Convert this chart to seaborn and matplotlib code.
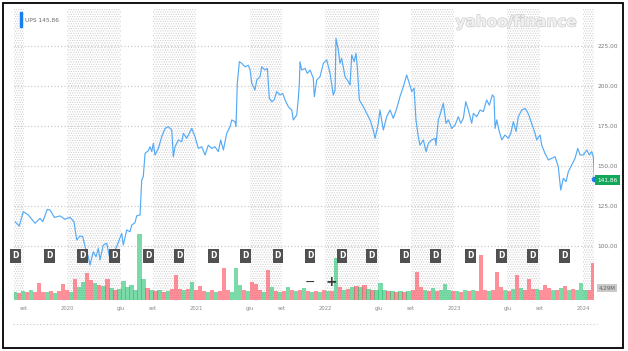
import numpy as np
import pandas as pd
import matplotlib
matplotlib.use("Agg")
import matplotlib.pyplot as plt
import matplotlib.patheffects as pe
from matplotlib.patches import Rectangle
from matplotlib.lines import Line2D
import seaborn as sns

# ---------------- data ----------------
t_year = [
    2019.597, 2019.630, 2019.661, 2019.700, 2019.752, 2019.791, 2019.812, 2019.847, 2019.868, 2019.902,
    2019.946, 2019.984, 2020.023, 2020.054, 2020.075, 2020.101, 2020.122, 2020.140, 2020.165, 2020.178,
    2020.204, 2020.225, 2020.243, 2020.256, 2020.281, 2020.308, 2020.333, 2020.359, 2020.385, 2020.424,
    2020.436, 2020.463, 2020.488, 2020.502, 2020.527, 2020.540, 2020.566, 2020.579, 2020.591, 2020.605,
    2020.630, 2020.643, 2020.657, 2020.669, 2020.682, 2020.708, 2020.734, 2020.760, 2020.785, 2020.812,
    2020.824, 2020.837, 2020.863, 2020.889, 2020.902, 2020.928, 2020.967, 2020.992, 2021.018, 2021.044,
    2021.070, 2021.095, 2021.122, 2021.147, 2021.173, 2021.191, 2021.212, 2021.238, 2021.264, 2021.277,
    2021.302, 2021.310, 2021.320, 2021.336, 2021.354, 2021.380, 2021.405, 2021.419, 2021.432, 2021.457,
    2021.471, 2021.496, 2021.509, 2021.535, 2021.553, 2021.568, 2021.587, 2021.605, 2021.626, 2021.651,
    2021.672, 2021.690, 2021.716, 2021.742, 2021.754, 2021.781, 2021.793, 2021.801, 2021.806, 2021.819,
    2021.845, 2021.863, 2021.884, 2021.909, 2021.917, 2021.936, 2021.961, 2021.987, 2022.013, 2022.039,
    2022.064, 2022.078, 2022.085, 2022.103, 2022.116, 2022.129, 2022.155, 2022.181, 2022.194, 2022.207,
    2022.225, 2022.240, 2022.250, 2022.266, 2022.297, 2022.323, 2022.349, 2022.374, 2022.388, 2022.413,
    2022.426, 2022.452, 2022.478, 2022.504, 2022.529, 2022.556, 2022.581, 2022.607, 2022.633, 2022.653,
    2022.672, 2022.690, 2022.705, 2022.723, 2022.736, 2022.762, 2022.783, 2022.801, 2022.827, 2022.853,
    2022.860, 2022.878, 2022.891, 2022.917, 2022.938, 2022.956, 2022.982, 2023.008, 2023.033, 2023.052,
    2023.072, 2023.091, 2023.111, 2023.137, 2023.150, 2023.176, 2023.202, 2023.227, 2023.253, 2023.274,
    2023.297, 2023.310, 2023.318, 2023.331, 2023.351, 2023.370, 2023.395, 2023.421, 2023.440, 2023.460,
    2023.481, 2023.498, 2023.525, 2023.550, 2023.568, 2023.584, 2023.610, 2023.628, 2023.641, 2023.667,
    2023.680, 2023.705, 2023.731, 2023.757, 2023.783, 2023.808, 2023.827, 2023.847, 2023.868, 2023.886,
    2023.912, 2023.938, 2023.959, 2023.977, 2024.002, 2024.029, 2024.049, 2024.067, 2024.080, 2024.088,
]
price = [
    115.2, 112.5, 121.5, 119.4, 114.2, 117.3, 115.2, 122.9, 122.5, 117.9,
    118.8, 116.7, 117.9, 115.2, 103.8, 106.3, 105.8, 99.6, 93.3, 88.1,
    96.4, 93.3, 98.5, 91.3, 100.6, 101.7, 91.3, 95.4, 99.6, 107.9,
    100.6, 110.0, 108.9, 113.1, 114.6, 118.8, 119.4, 141.3, 143.3, 157.9,
    159.6, 162.0, 159.0, 164.2, 156.9, 161.0, 168.3, 173.5, 174.6, 172.5,
    155.8, 162.0, 166.3, 165.2, 170.4, 167.3, 173.5, 168.3, 161.0, 162.0,
    156.9, 163.0, 161.0, 162.0, 159.0, 166.3, 160.0, 170.4, 174.6, 178.8,
    177.7, 174.6, 201.7, 215.2, 214.2, 212.0, 213.0, 210.0, 201.7, 197.5,
    203.8, 205.8, 212.0, 210.0, 211.0, 192.3, 190.2, 191.3, 196.5, 194.4,
    195.4, 191.3, 187.0, 185.0, 178.8, 181.9, 192.3, 201.7, 215.2, 210.0,
    211.0, 207.9, 210.0, 204.8, 193.3, 203.8, 205.8, 214.2, 216.3, 207.9,
    194.4, 197.5, 229.8, 222.5, 214.2, 217.3, 205.8, 202.7, 200.6, 219.4,
    215.2, 220.4, 212.0, 191.3, 187.0, 182.9, 178.8, 172.5, 167.3, 176.7,
    185.0, 172.5, 180.8, 185.0, 179.8, 186.0, 193.3, 199.6, 206.9, 201.7,
    196.5, 198.6, 178.8, 168.3, 163.0, 166.3, 159.0, 164.2, 166.3, 167.3,
    163.0, 178.8, 181.9, 189.2, 176.7, 178.8, 173.5, 175.6, 180.8, 176.7,
    179.8, 190.2, 185.0, 176.7, 182.9, 180.8, 185.0, 184.0, 191.3, 188.0,
    194.4, 193.3, 173.5, 178.8, 171.6, 166.3, 169.4, 167.3, 170.4, 177.7,
    171.6, 180.8, 185.0, 186.0, 184.0, 180.8, 174.6, 170.4, 166.3, 169.4,
    163.0, 157.9, 153.8, 154.8, 155.8, 149.6, 135.0, 142.3, 140.2, 146.4,
    150.6, 154.8, 161.0, 156.9, 156.9, 160.0, 156.9, 159.0, 155.8, 141.86,
]

# volume in millions (one bar every ~11 days) and up/down colour flags
vol_m = [
    3.0, 2.6, 3.2, 2.8, 3.4, 2.7, 6.2, 3.0, 2.9, 3.3,
    2.6, 3.1, 5.8, 3.4, 3.0, 7.6, 4.5, 6.5, 9.5, 7.0,
    6.0, 5.5, 5.0, 7.5, 4.2, 3.6, 4.0, 6.8, 4.5, 5.5,
    3.5, 23.5, 7.5, 4.2, 3.6, 3.2, 3.5, 3.0, 3.3, 4.0,
    8.8, 4.0, 3.4, 3.8, 6.5, 3.6, 5.0, 3.2, 3.0, 3.4,
    2.9, 3.3, 11.3, 3.4, 3.0, 11.3, 5.5, 3.5, 3.2, 6.5,
    5.8, 3.4, 3.0, 10.7, 4.5, 3.2, 3.0, 3.3, 4.5, 3.5,
    3.1, 3.4, 4.2, 3.2, 3.0, 3.3, 2.9, 3.4, 3.1, 3.2,
    15.0, 4.5, 3.4, 3.8, 4.6, 5.0, 4.5, 5.2, 4.0, 3.4,
    3.6, 6.0, 3.5, 3.1, 3.3, 2.9, 3.2, 3.0, 3.3, 3.4,
    10.0, 4.8, 3.6, 3.2, 4.2, 3.3, 3.6, 5.6, 3.4, 3.1,
    3.3, 3.0, 3.4, 3.2, 3.5, 3.1, 16.0, 3.6, 3.3, 3.5,
    10.0, 4.6, 3.6, 3.3, 4.0, 8.9, 4.2, 3.5, 7.5, 3.8,
    4.0, 3.7, 5.5, 4.2, 3.6, 3.5, 4.4, 5.0, 3.6, 3.8,
    3.5, 6.0, 3.4, 3.6, 13.2,
]
vol_dir = ("grgrgrrrgr" "grrrgrggrr" "grgrgrgggg" "gggrgrgrgr" "rrgrgrrrgr"
           "grrrgggrgr" "rrgrgrgrgr" "grgrgrgrgr" "grgrgrgrgr" "gggrgrgrgr"
           "rrgrgrgggr" "grgrgrrrgr" "rrgrgrgrrr" "grrrgrgrgr" "gggrr")

div_dates = ["2019-08-09", "2019-11-13", "2020-02-14", "2020-05-15", "2020-08-18",
             "2020-11-13", "2021-02-19", "2021-05-21", "2021-08-20", "2021-11-19",
             "2022-02-18", "2022-05-13", "2022-08-15", "2022-11-10", "2023-02-17",
             "2023-05-15", "2023-08-11", "2023-11-10"]

tick_dates = ["2019-09-01", "2020-01-01", "2020-06-01", "2020-09-01", "2021-01-01",
              "2021-06-01", "2021-09-01", "2022-01-01", "2022-06-01", "2022-09-01",
              "2023-01-01", "2023-06-01", "2023-09-01", "2024-01-01"]
tick_labels = ["set", "2020", "giu", "set", "2021", "giu", "set", "2022", "giu",
               "set", "2023", "giu", "set", "2024"]
price_ticks = [100, 125, 150, 175, 200, 225]
price_tick_labels = ["100,00", "125,00", "150,00", "175,00", "200,00", "225,00"]

last_label = "141,86"
legend_label = "UPS 145,86"
vol_label = "4,29M"


def yr2date(t):
    t = np.asarray(t, dtype=float)
    return pd.Timestamp("2020-01-01") + pd.to_timedelta((t - 2020.0) * 365.25, unit="D")


# ---------------- figure ----------------
sns.set_theme(style="white")
plt.rcParams["font.family"] = ["DejaVu Sans"]
plt.rcParams["hatch.linewidth"] = 0.5

W, H = 628, 351
fig = plt.figure(figsize=(W / 100, H / 100), dpi=100)
fig.patch.set_facecolor("white")


def fy(py):
    return 1 - py / H


x_left, x_right, y_top, y_bot = 14, 594, 8, 300
axv = fig.add_axes([x_left / W, fy(y_bot), (x_right - x_left) / W, (y_bot - y_top) / H])
ax = axv.twinx()
axv.set_zorder(0)
ax.set_zorder(1)
ax.patch.set_visible(False)

x0, x1 = yr2date(2019.589), yr2date(2024.085)

# alternating dotted bands between tick positions
edges = [x0] + [pd.Timestamp(d) for d in tick_dates] + [x1]
for i in range(0, len(edges) - 1, 2):
    axv.axvspan(edges[i], edges[i + 1], facecolor="white", edgecolor="#cdcdcd",
                hatch=".......", lw=0, zorder=0)

# volume bars
vdates = yr2date(np.linspace(2019.597, 2024.080, len(vol_m)))
vcols = ["#22c26f" if c == "g" else "#ff4657" for c in vol_dir]
axv.bar(vdates, vol_m, width=pd.Timedelta(days=12), color=vcols, alpha=0.6,
        linewidth=0, zorder=2)
axv.set_ylim(0, (y_bot - y_top) / 2.8)
axv.set_yticks([])

# price line
df = pd.DataFrame({"date": yr2date(t_year), "price": price})
sns.lineplot(data=df, x="date", y="price", ax=ax, color="#55aaf6", linewidth=0.85,
             zorder=3)
ax.scatter([df["date"].iloc[-1]], [price[-1]], s=9, color="#1d7fea", zorder=4)

ylo = 100 - (y_bot - 246) / 1.6
yhi = 100 + (246 - y_top) / 1.6
ax.set_ylim(ylo, yhi)
ax.set_xlim(x0, x1)
axv.set_xlim(x0, x1)

ax.set_yticks(price_ticks)
ax.set_yticklabels(price_tick_labels)
ax.yaxis.grid(True, linestyle=(0, (1, 2)), color="#c4c4c4", linewidth=0.8)
ax.xaxis.grid(False)
ax.tick_params(axis="y", length=0, labelsize=4.2, labelcolor="#7a7a7a", pad=2.5)
ax.set_xlabel("")
ax.set_ylabel("")

axv.set_xticks([pd.Timestamp(d) for d in tick_dates])
axv.set_xticklabels(tick_labels)
axv.tick_params(axis="x", length=0, labelsize=3.8, labelcolor="#8a8a8a", pad=4.5)
ax.tick_params(axis="x", length=0, labelbottom=False)
for a in (ax, axv):
    for s in a.spines.values():
        s.set_visible(False)

# dividend markers
for d in div_dates:
    ax.text(pd.Timestamp(d), 100 - (256 - 246) / 1.6, "D", ha="center", va="center",
            fontsize=5.5, color="white", fontweight="bold", zorder=5,
            bbox=dict(boxstyle="square,pad=0.28", fc="#505050", ec="none"))

# right-side labels
fig.text(607.5 / W, fy(180), last_label, ha="center", va="center", fontsize=4.2,
         color="white", bbox=dict(boxstyle="square,pad=0.35", fc="#14a75a", ec="none"))
fig.text(607 / W, fy(288), vol_label, ha="center", va="center", fontsize=4.0,
         color="#606060", bbox=dict(boxstyle="square,pad=0.35", fc="#cacaca", ec="none"))

# legend at top-left
fig.patches.append(Rectangle((19.5 / W, fy(27)), 2.5 / W, 15 / H,
                             transform=fig.transFigure, color="#1a7ef0"))
fig.text(25 / W, fy(20), legend_label, ha="left", va="center", fontsize=4.2,
         color="#6a6a6a")

# watermark
fig.text(516 / W, fy(22), "yahoo/finance", ha="center", va="center", fontsize=11,
         fontweight="bold", color="#f0f0f0",
         path_effects=[pe.Stroke(linewidth=0.9, foreground="#cccccc"), pe.Normal()])

# zoom controls
fig.text(310 / W, fy(282), "\u2212", ha="center", va="center", fontsize=9, color="#3a3a3a")
fig.text(331 / W, fy(282), "+", ha="center", va="center", fontsize=10, color="#3a3a3a",
         fontweight="bold")

# dotted separator below the time axis
fig.add_artist(Line2D([13 / W, 597 / W], [fy(324), fy(324)], transform=fig.transFigure,
                      linestyle=(0, (1, 2)), color="#c4c4c4", linewidth=0.8))

# outer black frame
fig.patches.append(Rectangle((3 / W, fy(348)), (623 - 3) / W, (348 - 3) / H,
                             transform=fig.transFigure, fill=False, ec="black", lw=1.3))

fig.savefig("out.png", dpi=100)
